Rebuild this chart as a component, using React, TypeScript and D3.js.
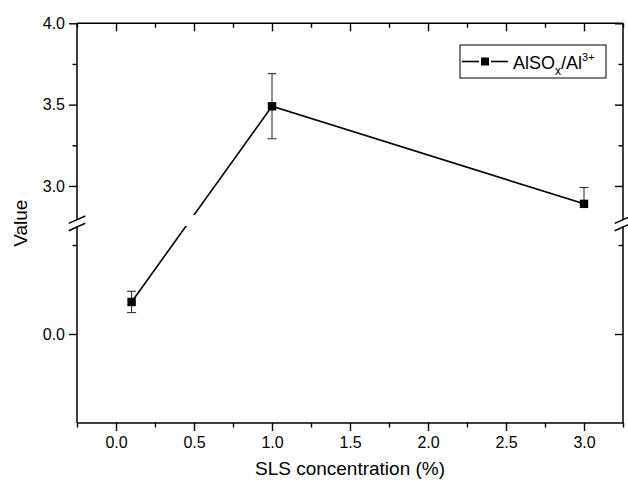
import * as d3 from "d3";
import { useEffect, useRef } from "react";

const conc = [0.1, 1.0, 3.0];
const values = [0.09, 3.49, 2.89];
const errors = [0.03, 0.2, 0.1];

const xMajor = [0, 0.5, 1.0, 1.5, 2.0, 2.5, 3.0];
const xMinor = [-0.25, 0.25, 0.75, 1.25, 1.75, 2.25, 2.75, 3.25];
const upMajor = [3.0, 3.5, 4.0];
const upMinor = [3.25, 3.75];
const lowMajor = [0.0];
const lowMinor = [0.25];

const seriesName = "AlSO";

function App() {
  const ref = useRef<SVGSVGElement>(null);
  const W = 628;
  const H = 484;
  const left = 77;
  const right = 623;
  const top = 23.3;
  const bottom = 423;
  const breakUp = 218.5;
  const breakLow = 227.2;
  const font = "'Liberation Sans', Arial, sans-serif";

  useEffect(() => {
    if (!ref.current) return;
    const svg = d3.select(ref.current);
    svg.selectAll("*").remove();

    const x = d3.scaleLinear().domain([-0.25, 3.25]).range([left, right]);
    const yUp = d3.scaleLinear().domain([2.8, 4.0]).range([breakUp, top]);
    const yLow = d3.scaleLinear().domain([-0.25, 0.3]).range([bottom, breakLow]);
    const seg = (v: number) => (v >= 2.8 ? 1 : 0);
    const yPix = (v: number) => (v >= 2.8 ? yUp(v) : yLow(v));

    const defs = svg.append("defs");
    defs.append("clipPath").attr("id", "clipUp")
      .append("rect").attr("x", 0).attr("y", 0).attr("width", W).attr("height", 215);
    defs.append("clipPath").attr("id", "clipLow")
      .append("rect").attr("x", 0).attr("y", 226).attr("width", W).attr("height", H - 226);

    const fmt = d3.format(".1f");
    const styleAxis = (g: any) => {
      g.select(".domain").remove();
      g.selectAll("line").attr("stroke", "#000").attr("stroke-width", 1.4);
      g.selectAll("text").attr("fill", "#000").style("font-family", font).style("font-size", "16px");
    };

    // bottom axis
    svg.append("g").attr("transform", `translate(0,${bottom})`)
      .call(d3.axisBottom(x).tickValues(xMajor).tickSize(8).tickPadding(6).tickFormat(fmt as any))
      .call(styleAxis);
    svg.append("g").attr("transform", `translate(0,${bottom})`)
      .call(d3.axisBottom(x).tickValues(xMinor).tickSize(4.5).tickFormat(() => ""))
      .call(styleAxis);
    // top axis (inward)
    svg.append("g").attr("transform", `translate(0,${top})`)
      .call(d3.axisTop(x).tickValues(xMajor).tickSize(-8).tickFormat(() => ""))
      .call(styleAxis);
    svg.append("g").attr("transform", `translate(0,${top})`)
      .call(d3.axisTop(x).tickValues(xMinor).tickSize(-4.5).tickFormat(() => ""))
      .call(styleAxis);

    // left axis, two segments
    [[yUp, upMajor, upMinor], [yLow, lowMajor, lowMinor]].forEach(([sc, maj, min]: any) => {
      svg.append("g").attr("transform", `translate(${left},0)`)
        .call(d3.axisLeft(sc).tickValues(maj).tickSize(8).tickPadding(4).tickFormat(fmt as any))
        .call(styleAxis);
      svg.append("g").attr("transform", `translate(${left},0)`)
        .call(d3.axisLeft(sc).tickValues(min).tickSize(4.5).tickFormat(() => ""))
        .call(styleAxis);
      svg.append("g").attr("transform", `translate(${right},0)`)
        .call(d3.axisRight(sc).tickValues(maj).tickSize(-8).tickFormat(() => ""))
        .call(styleAxis);
      svg.append("g").attr("transform", `translate(${right},0)`)
        .call(d3.axisRight(sc).tickValues(min).tickSize(-4.5).tickFormat(() => ""))
        .call(styleAxis);
    });

    // frame
    const frame = svg.append("g").attr("stroke", "#000").attr("stroke-width", 1.5).attr("fill", "none");
    frame.append("line").attr("x1", left).attr("x2", right).attr("y1", top).attr("y2", top);
    frame.append("line").attr("x1", left).attr("x2", right).attr("y1", bottom).attr("y2", bottom);
    [left, right].forEach((ax) => {
      frame.append("line").attr("x1", ax).attr("x2", ax).attr("y1", top).attr("y2", breakUp + 1);
      frame.append("line").attr("x1", ax).attr("x2", ax).attr("y1", breakLow - 1).attr("y2", bottom);
      // break marks
      [breakUp + 1.2, breakLow - 0.2].forEach((by) => {
        frame.append("line")
          .attr("x1", ax - 8.3).attr("y1", by + 3.7)
          .attr("x2", ax + 8.3).attr("y2", by - 3.7);
      });
    });

    // data line
    const pts = conc.map((c, i) => [x(c), yPix(values[i])] as [number, number]);
    const line = d3.line();
    ["clipUp", "clipLow"].forEach((id) => {
      svg.append("path")
        .attr("d", line(pts))
        .attr("clip-path", `url(#${id})`)
        .attr("fill", "none")
        .attr("stroke", "#000")
        .attr("stroke-width", 1.6);
    });

    // error bars
    const eb = svg.append("g").attr("stroke", "#222").attr("stroke-width", 1);
    conc.forEach((c, i) => {
      const cx = x(c);
      const v = values[i];
      const cy = yPix(v);
      [v + errors[i], v - errors[i]].forEach((e) => {
        if (seg(e) !== seg(v)) return;
        const ey = yPix(e);
        eb.append("line").attr("x1", cx).attr("x2", cx).attr("y1", cy).attr("y2", ey);
        eb.append("line").attr("x1", cx - 4.5).attr("x2", cx + 4.5).attr("y1", ey).attr("y2", ey);
      });
    });

    // markers
    svg.append("g").selectAll("rect").data(pts).join("rect")
      .attr("x", (d) => d[0] - 4.2).attr("y", (d) => d[1] - 4.2)
      .attr("width", 8.4).attr("height", 8.4).attr("fill", "#000");

    // axis titles
    svg.append("text")
      .attr("x", (left + right) / 2).attr("y", 475)
      .attr("text-anchor", "middle")
      .style("font-family", font).style("font-size", "19px")
      .text("SLS concentration (%)");
    svg.append("text")
      .attr("transform", `translate(27,${(top + bottom) / 2}) rotate(-90)`)
      .attr("text-anchor", "middle")
      .style("font-family", font).style("font-size", "19px")
      .text("Value");

    // legend
    const lg = svg.append("g");
    lg.append("rect").attr("x", 460).attr("y", 45).attr("width", 146).attr("height", 33)
      .attr("fill", "#fff").attr("stroke", "#000").attr("stroke-width", 1);
    lg.append("line").attr("x1", 462).attr("x2", 479).attr("y1", 61.5).attr("y2", 61.5)
      .attr("stroke", "#000").attr("stroke-width", 1.6);
    lg.append("line").attr("x1", 491).attr("x2", 508).attr("y1", 61.5).attr("y2", 61.5)
      .attr("stroke", "#000").attr("stroke-width", 1.6);
    lg.append("rect").attr("x", 481).attr("y", 57.5).attr("width", 8).attr("height", 8).attr("fill", "#000");
    const t = lg.append("text").attr("x", 513).attr("y", 68.5)
      .style("font-family", font).style("font-size", "18px");
    t.append("tspan").text(seriesName);
    t.append("tspan").attr("dy", 6).style("font-size", "12px").text("x");
    t.append("tspan").attr("dy", -6).text("/Al");
    t.append("tspan").attr("dy", -8).style("font-size", "11px").text("3+");
  }, []);

  return (
    <svg
      ref={ref}
      width={W}
      height={H}
      style={{ position: "absolute", left: 0, top: 0, background: "#fff" }}
    />
  );
}

export default App;
